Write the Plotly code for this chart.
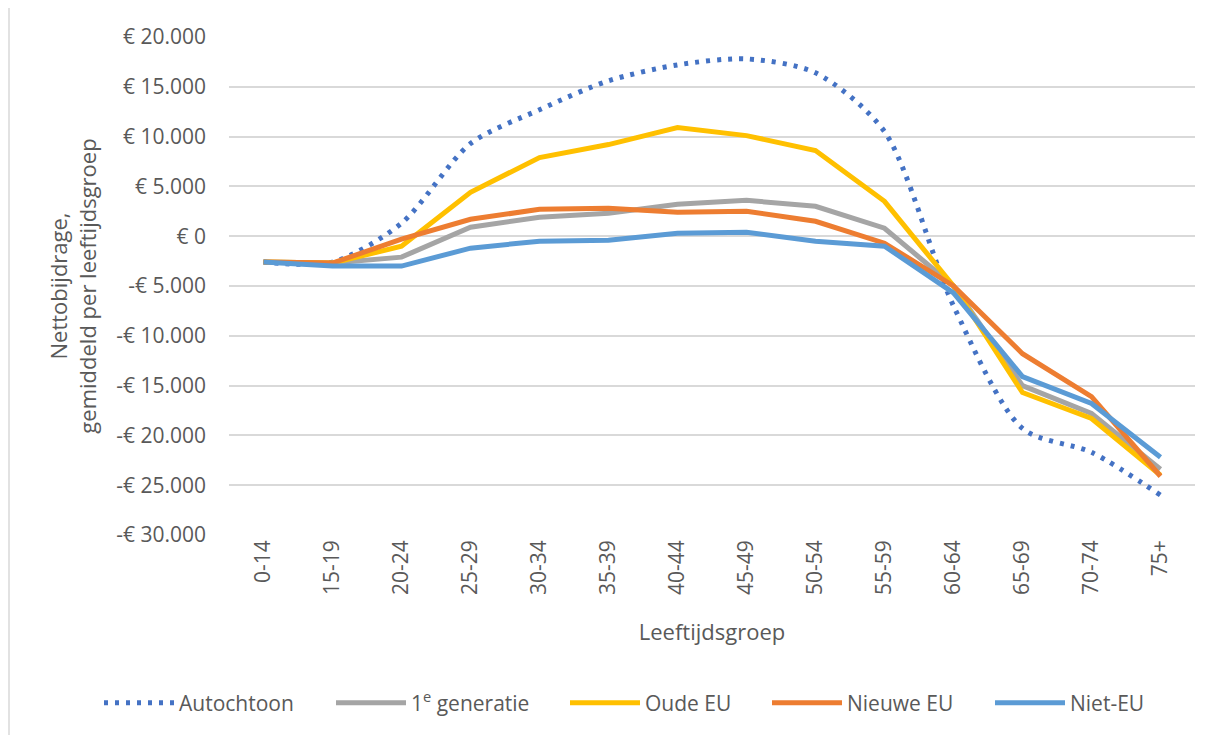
import plotly.graph_objects as go

categories = ["0-14", "15-19", "20-24", "25-29", "30-34", "35-39", "40-44",
              "45-49", "50-54", "55-59", "60-64", "65-69", "70-74", "75+"]

autochtoon = [-2600, -2600, 1300, 9300, 12700, 15600, 17200, 17800, 16400, 10500, -7000, -19300, -21700, -26000]
eerste_gen = [-2600, -2700, -2100, 900, 1900, 2300, 3200, 3600, 3000, 800, -5000, -15000, -17800, -23400]
oude_eu = [-2600, -2700, -1000, 4400, 7900, 9200, 10900, 10100, 8600, 3500, -5000, -15700, -18300, -24000]
nieuwe_eu = [-2600, -2700, -300, 1700, 2700, 2800, 2400, 2500, 1500, -700, -5000, -11800, -16100, -24100]
niet_eu = [-2600, -3000, -3000, -1200, -500, -400, 300, 400, -500, -1000, -5700, -14100, -16800, -22200]

series_names = ["Autochtoon", "1<sup>e</sup> generatie", "Oude EU", "Nieuwe EU", "Niet-EU"]

y_ticks = [20000, 15000, 10000, 5000, 0, -5000, -10000, -15000, -20000, -25000, -30000]
y_tick_labels = ["€ 20.000", "€ 15.000", "€ 10.000", "€ 5.000", "€ 0", "-€ 5.000",
                 "-€ 10.000", "-€ 15.000", "-€ 20.000", "-€ 25.000", "-€ 30.000"]

FONT = "Open Sans, Lato, sans-serif"
TXT = "#595959"

# page body has an 8px margin: size the figure so it ends at the window edge
W, H, OFF = 1214 - 8, 735 - 8, 8
PL, PR, PT, PB = 229, 1195, 37, 535  # plot area in window pixels

# left edge (window px) of each legend entry, one legend box per series
LEG_X = [105, 337, 571, 773, 996]
LEG_Y = 703

fig = go.Figure()
styles = [
    (autochtoon, dict(color="#4472C4", width=5, dash="4px,7px", shape="spline", smoothing=0.8)),
    (eerste_gen, dict(color="#A5A5A5", width=5)),
    (oude_eu, dict(color="#FFC000", width=5)),
    (nieuwe_eu, dict(color="#ED7D31", width=5)),
    (niet_eu, dict(color="#5B9BD5", width=5)),
]
for i, (vals, ln) in enumerate(styles):
    fig.add_trace(go.Scatter(x=categories, y=vals, name=series_names[i], mode="lines",
                             line=ln, legend="legend" if i == 0 else f"legend{i + 1}"))

pw, ph = PR - PL, PB - PT
layout_legends = {}
for i, lx in enumerate(LEG_X):
    key = "legend" if i == 0 else f"legend{i + 1}"
    layout_legends[key] = dict(orientation="h", xref="container", yref="container",
                               x=(lx - OFF - 6) / W, xanchor="left",
                               y=(735 - LEG_Y) / H, yanchor="middle",
                               font=dict(size=21, color=TXT), itemwidth=70,
                               bgcolor="rgba(0,0,0,0)")

fig.update_layout(
    width=W, height=H,
    margin=dict(l=PL - OFF, r=1214 - PR, t=PT - OFF, b=735 - PB),
    paper_bgcolor="white", plot_bgcolor="white",
    font=dict(family=FONT, size=21, color=TXT),
    showlegend=True,
    xaxis=dict(type="category", range=[-0.5, 13.5], tickangle=-90, showgrid=False,
               showline=False, ticks="", tickfont=dict(size=21, color=TXT),
               title=dict(text="Leeftijdsgroep", font=dict(size=22, color=TXT), standoff=30)),
    yaxis=dict(range=[-30000, 20000], tickvals=y_ticks, ticktext=y_tick_labels,
               showgrid=True, gridcolor="#D9D9D9", gridwidth=1.5, zeroline=False,
               showline=False, ticks="", ticklabelstandoff=22,
               tickfont=dict(size=21, color=TXT),
               title=dict(text="Nettobijdrage,<br>gemiddeld per leeftijdsgroep",
                          font=dict(size=22, color=TXT), standoff=13)),
    shapes=[dict(type="rect", xref="paper", yref="paper",
                 x0=(9 - PL) / pw, x1=1.2, y0=-0.6, y1=(PB - 7) / ph,
                 line=dict(color="#D9D9D9", width=1.5), layer="below")],
    **layout_legends,
)

fig.write_html("out.html")
